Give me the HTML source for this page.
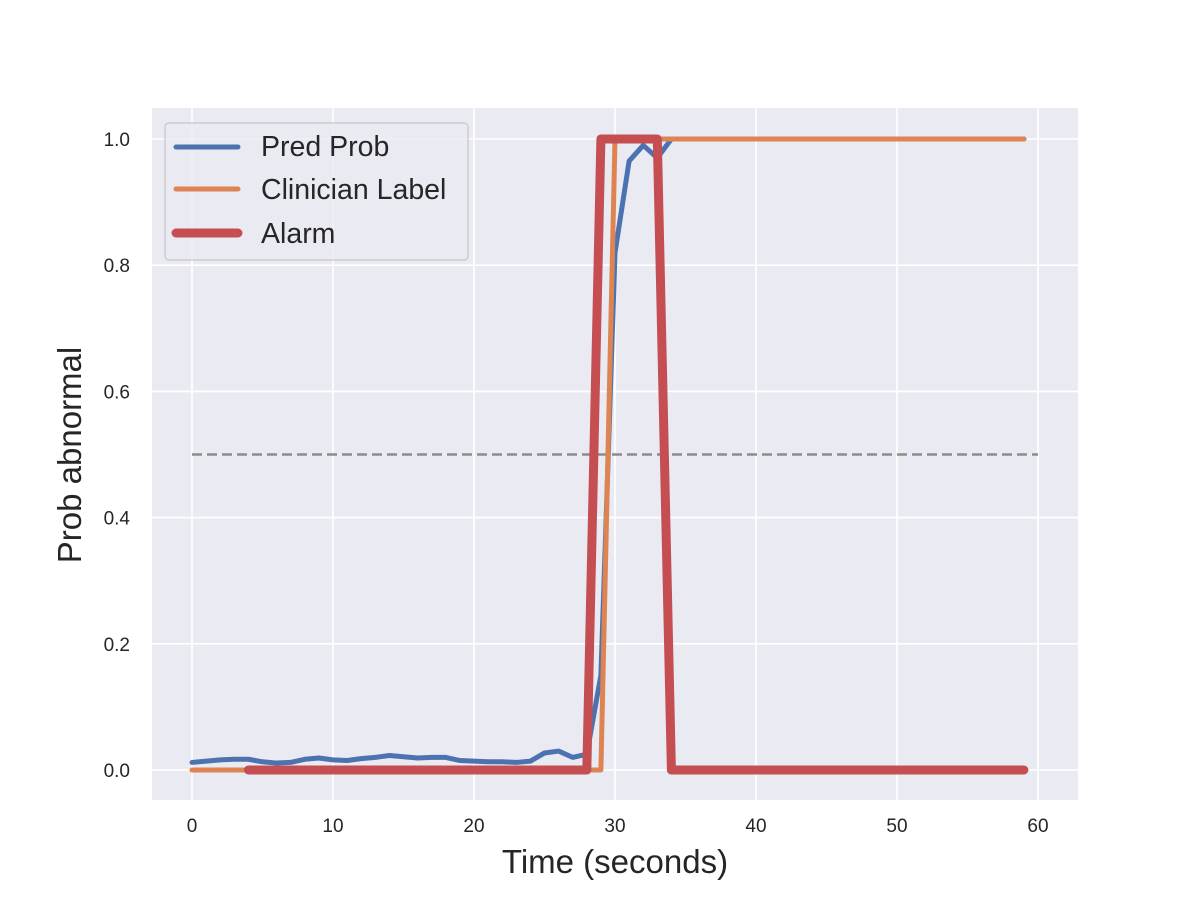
<!DOCTYPE html>
<html><head><meta charset="utf-8"><style>
html,body{margin:0;padding:0;background:#fff}
svg{display:block;font-family:"Liberation Sans","DejaVu Sans",sans-serif}
</style></head><body>
<svg id="chart" width="1200" height="900" xmlns="http://www.w3.org/2000/svg">
<rect x="152" y="108" width="926" height="692" fill="#eaeaf2"/>
<g id="grid"></g>
<g id="ticks"></g>
<line id="thresh" stroke="#8c8c8c" stroke-width="2.5" stroke-dasharray="10,5"/>
<g id="series"></g>
<text x="615" y="873" font-size="33" text-anchor="middle" fill="#262626">Time (seconds)</text>
<text transform="translate(81,455) rotate(-90)" font-size="33" text-anchor="middle" fill="#262626">Prob abnormal</text>
<g>
<rect x="165" y="123" width="303" height="137" rx="4" fill="#eaeaf2" fill-opacity="0.8" stroke="#cccccc" stroke-width="1.5"/>
<line x1="176" y1="147" x2="238" y2="147" stroke="#4c72b0" stroke-width="5" stroke-linecap="round"/>
<text x="261" y="156" font-size="28.5" fill="#262626">Pred Prob</text>
<line x1="176" y1="189" x2="238" y2="189" stroke="#dd8452" stroke-width="5" stroke-linecap="round"/>
<text x="261" y="199" font-size="28.5" fill="#262626">Clinician Label</text>
<line x1="176" y1="233" x2="238" y2="233" stroke="#c44e52" stroke-width="9" stroke-linecap="round"/>
<text x="261" y="243" font-size="28.5" fill="#262626">Alarm</text>
</g>
</svg>
<script>
const xTicks=[0,10,20,30,40,50,60];
const yTicks=[0,0.2,0.4,0.6,0.8,1.0];
const yTickLabels=["0.0","0.2","0.4","0.6","0.8","1.0"];
const predProb=[0.012,0.014,0.016,0.017,0.017,0.013,0.011,0.012,0.017,0.019,0.016,0.015,0.018,0.02,0.023,0.021,0.019,0.02,0.02,0.015,0.014,0.013,0.013,0.012,0.014,0.027,0.03,0.02,0.025,0.15,0.82,0.965,0.99,0.97,1,1,1,1,1,1,1,1,1,1,1,1,1,1,1,1,1,1,1,1,1,1,1,1,1,1];
const clinicianLabel=[0,0,0,0,0,0,0,0,0,0,0,0,0,0,0,0,0,0,0,0,0,0,0,0,0,0,0,0,0,0,1,1,1,1,1,1,1,1,1,1,1,1,1,1,1,1,1,1,1,1,1,1,1,1,1,1,1,1,1,1];
const alarmStart=4;
const alarm=[0,0,0,0,0,0,0,0,0,0,0,0,0,0,0,0,0,0,0,0,0,0,0,0,0,1,1,1,1,1,0,0,0,0,0,0,0,0,0,0,0,0,0,0,0,0,0,0,0,0,0,0,0,0,0,0];
const threshold=0.5;
const NS="http://www.w3.org/2000/svg";
const X=v=>192+v*(1038-192)/60;
const Y=v=>770-v*(770-139);
const grid=document.getElementById('grid'),ticks=document.getElementById('ticks'),series=document.getElementById('series');
function mk(tag,attrs,parent){const e=document.createElementNS(NS,tag);for(const k in attrs)e.setAttribute(k,attrs[k]);parent.appendChild(e);return e;}
xTicks.forEach(t=>{
 const l=mk('line',{x1:X(t),x2:X(t),y1:108,y2:800,stroke:'#fff','stroke-width':1.6},grid);
 
 
 const tx=mk('text',{x:X(t),y:832,'font-size':19,'text-anchor':'middle',fill:'#262626'},ticks);
 tx.textContent=t;
 
 
});
yTicks.forEach((t,i)=>{
 const l=mk('line',{x1:152,x2:1078,y1:Y(t),y2:Y(t),stroke:'#fff','stroke-width':1.6},grid);
 
 
 const tx=mk('text',{x:130,y:Y(t)+7,'font-size':19,'text-anchor':'end',fill:'#262626'},ticks);
 tx.textContent=yTickLabels[i];
 
 
});
const th=document.getElementById('thresh');
th.setAttribute('x1',X(0));th.setAttribute('x2',X(60));th.setAttribute('y1',Y(threshold));th.setAttribute('y2',Y(threshold));
function line(vals,start,color,w,name){
 const pts=vals.map((v,i)=>X(start+i)+','+Y(v)).join(' ');
 const p=mk('polyline',{points:pts,fill:'none',stroke:color,'stroke-width':w,'stroke-linejoin':'round','stroke-linecap':'round'},series);
 
 
}
line(predProb,0,'#4c72b0',5,'pred-prob-line');
line(clinicianLabel,0,'#dd8452',5,'clinician-label-line');
line(alarm,alarmStart,'#c44e52',9,'alarm-line');
</script>
</body></html>
